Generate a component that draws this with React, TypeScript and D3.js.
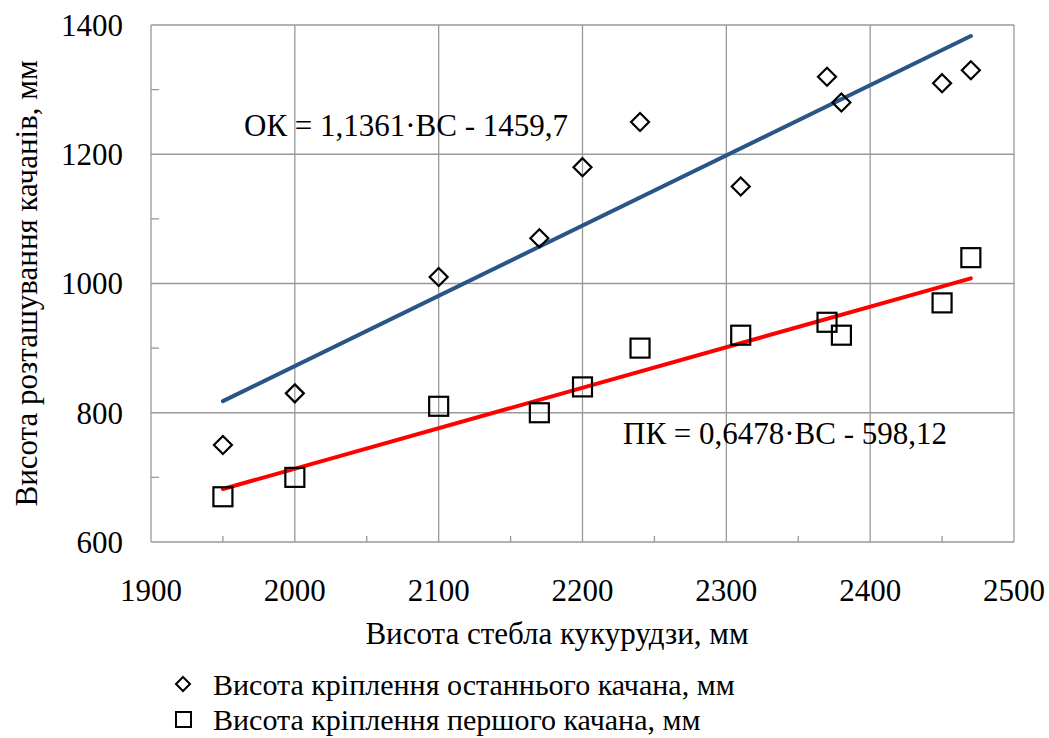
import React from "react";
import * as d3 from "d3";

const width = 1049;
const height = 738;

// Висота стебла, мм
const stemHeight = [1950, 2000, 2100, 2170, 2200, 2240, 2310, 2370, 2380, 2450, 2470];
// Висота кріплення останнього качана, мм
const lastEar = [750, 830, 1010, 1070, 1180, 1250, 1150, 1320, 1280, 1310, 1330];
// Висота кріплення першого качана, мм
const firstEar = [670, 700, 810, 800, 840, 900, 920, 940, 920, 970, 1040];

// trend lines as drawn (start/end)
const trendX = [1950, 2470];
const trendLast = [818, 1383];
const trendFirst = [682, 1008];

const xTicks = [1900, 2000, 2100, 2200, 2300, 2400, 2500];
const xMinor = [1950, 2050, 2150, 2250, 2350, 2450];
const yTicks = [600, 800, 1000, 1200, 1400];
const yMinor = [700, 900, 1100, 1300];

const eqLast = "ОК = 1,1361·ВС - 1459,7";
const eqFirst = "ПК = 0,6478·ВС - 598,12";
const xTitle = "Висота стебла кукурудзи, мм";
const yTitle = "Висота розташування качанів, мм";
const legendLabels = [
  "Висота кріплення останнього качана, мм",
  "Висота кріплення першого качана, мм",
];

const font = '"Liberation Serif", Tinos, "Times New Roman", "DejaVu Serif", serif';
const gridColor = "#999999";
const fs = 31;

const x = d3.scaleLinear().domain([1900, 2500]).range([151, 1014]);
const y = d3.scaleLinear().domain([600, 1400]).range([542, 25]);

const diamond = (cx: number, cy: number, r: number) =>
  `M${cx},${cy - r}L${cx + r},${cy}L${cx},${cy + r}L${cx - r},${cy}Z`;

const line = d3
  .line<[number, number]>()
  .x((d) => x(d[0]))
  .y((d) => y(d[1]));

const txt = { fontFamily: font, fontSize: fs, fill: "#000" } as React.CSSProperties;
const legTxt = { ...txt, fontSize: 30 } as React.CSSProperties;

export default function App() {
  return (
    <svg
      width={width}
      height={height}
      style={{ position: "absolute", left: 0, top: 0, background: "#fff", fontFamily: font }}
    >
      {/* grid */}
      {xTicks.map((t) => (
        <line key={"gx" + t} x1={x(t)} x2={x(t)} y1={y(1400)} y2={y(600)} stroke={gridColor} strokeWidth={1.3} />
      ))}
      {yTicks.map((t) => (
        <line key={"gy" + t} x1={x(1900)} x2={x(2500)} y1={y(t)} y2={y(t)} stroke={gridColor} strokeWidth={1.3} />
      ))}
      {xMinor.map((t) => (
        <line key={"mx" + t} x1={x(t)} x2={x(t)} y1={y(600)} y2={y(600) - 6} stroke={gridColor} strokeWidth={1.3} />
      ))}
      {yMinor.map((t) => (
        <line key={"my" + t} x1={x(1900)} x2={x(1900) + 8} y1={y(t)} y2={y(t)} stroke={gridColor} strokeWidth={1.3} />
      ))}

      {/* tick labels */}
      {yTicks.map((t) => (
        <text key={"ly" + t} x={123} y={y(t)} dy="0.35em" textAnchor="end" style={txt}>
          {t}
        </text>
      ))}
      {xTicks.map((t) => (
        <text key={"lx" + t} x={x(t)} y={590} dy="0.35em" textAnchor="middle" style={txt}>
          {t}
        </text>
      ))}

      {/* axis titles */}
      <text x={557} y={633} dy="0.35em" textAnchor="middle" style={txt}>
        {xTitle}
      </text>
      <text
        transform={`translate(26,${(y(600) + y(1400)) / 2}) rotate(-90)`}
        dy="0.35em"
        textAnchor="middle"
        style={txt}
      >
        {yTitle}
      </text>

      {/* trend lines */}
      <path d={line(trendX.map((v, i) => [v, trendLast[i]]))!} stroke="#2a5587" strokeWidth={4} fill="none" strokeLinecap="round" />
      <path d={line(trendX.map((v, i) => [v, trendFirst[i]]))!} stroke="#ff0000" strokeWidth={4} fill="none" strokeLinecap="round" />

      {/* points */}
      {stemHeight.map((s, i) => (
        <path key={"d" + i} d={diamond(x(s), y(lastEar[i]), 9)} fill="none" stroke="#000" strokeWidth={2.2} />
      ))}
      {stemHeight.map((s, i) => (
        <rect key={"s" + i} x={x(s) - 9.5} y={y(firstEar[i]) - 9.5} width={19} height={19} fill="none" stroke="#000" strokeWidth={2.2} />
      ))}

      {/* equations */}
      <text x={244} y={125} dy="0.35em" style={txt}>
        {eqLast}
      </text>
      <text x={623} y={433} dy="0.35em" style={txt}>
        {eqFirst}
      </text>

      {/* legend */}
      <path d={diamond(183, 684, 7)} fill="none" stroke="#000" strokeWidth={2} />
      <text x={213} y={684} dy="0.35em" style={legTxt}>
        {legendLabels[0]}
      </text>
      <rect x={176} y={712} width={15} height={15} fill="none" stroke="#000" strokeWidth={2} />
      <text x={213} y={719} dy="0.35em" style={legTxt}>
        {legendLabels[1]}
      </text>
    </svg>
  );
}
